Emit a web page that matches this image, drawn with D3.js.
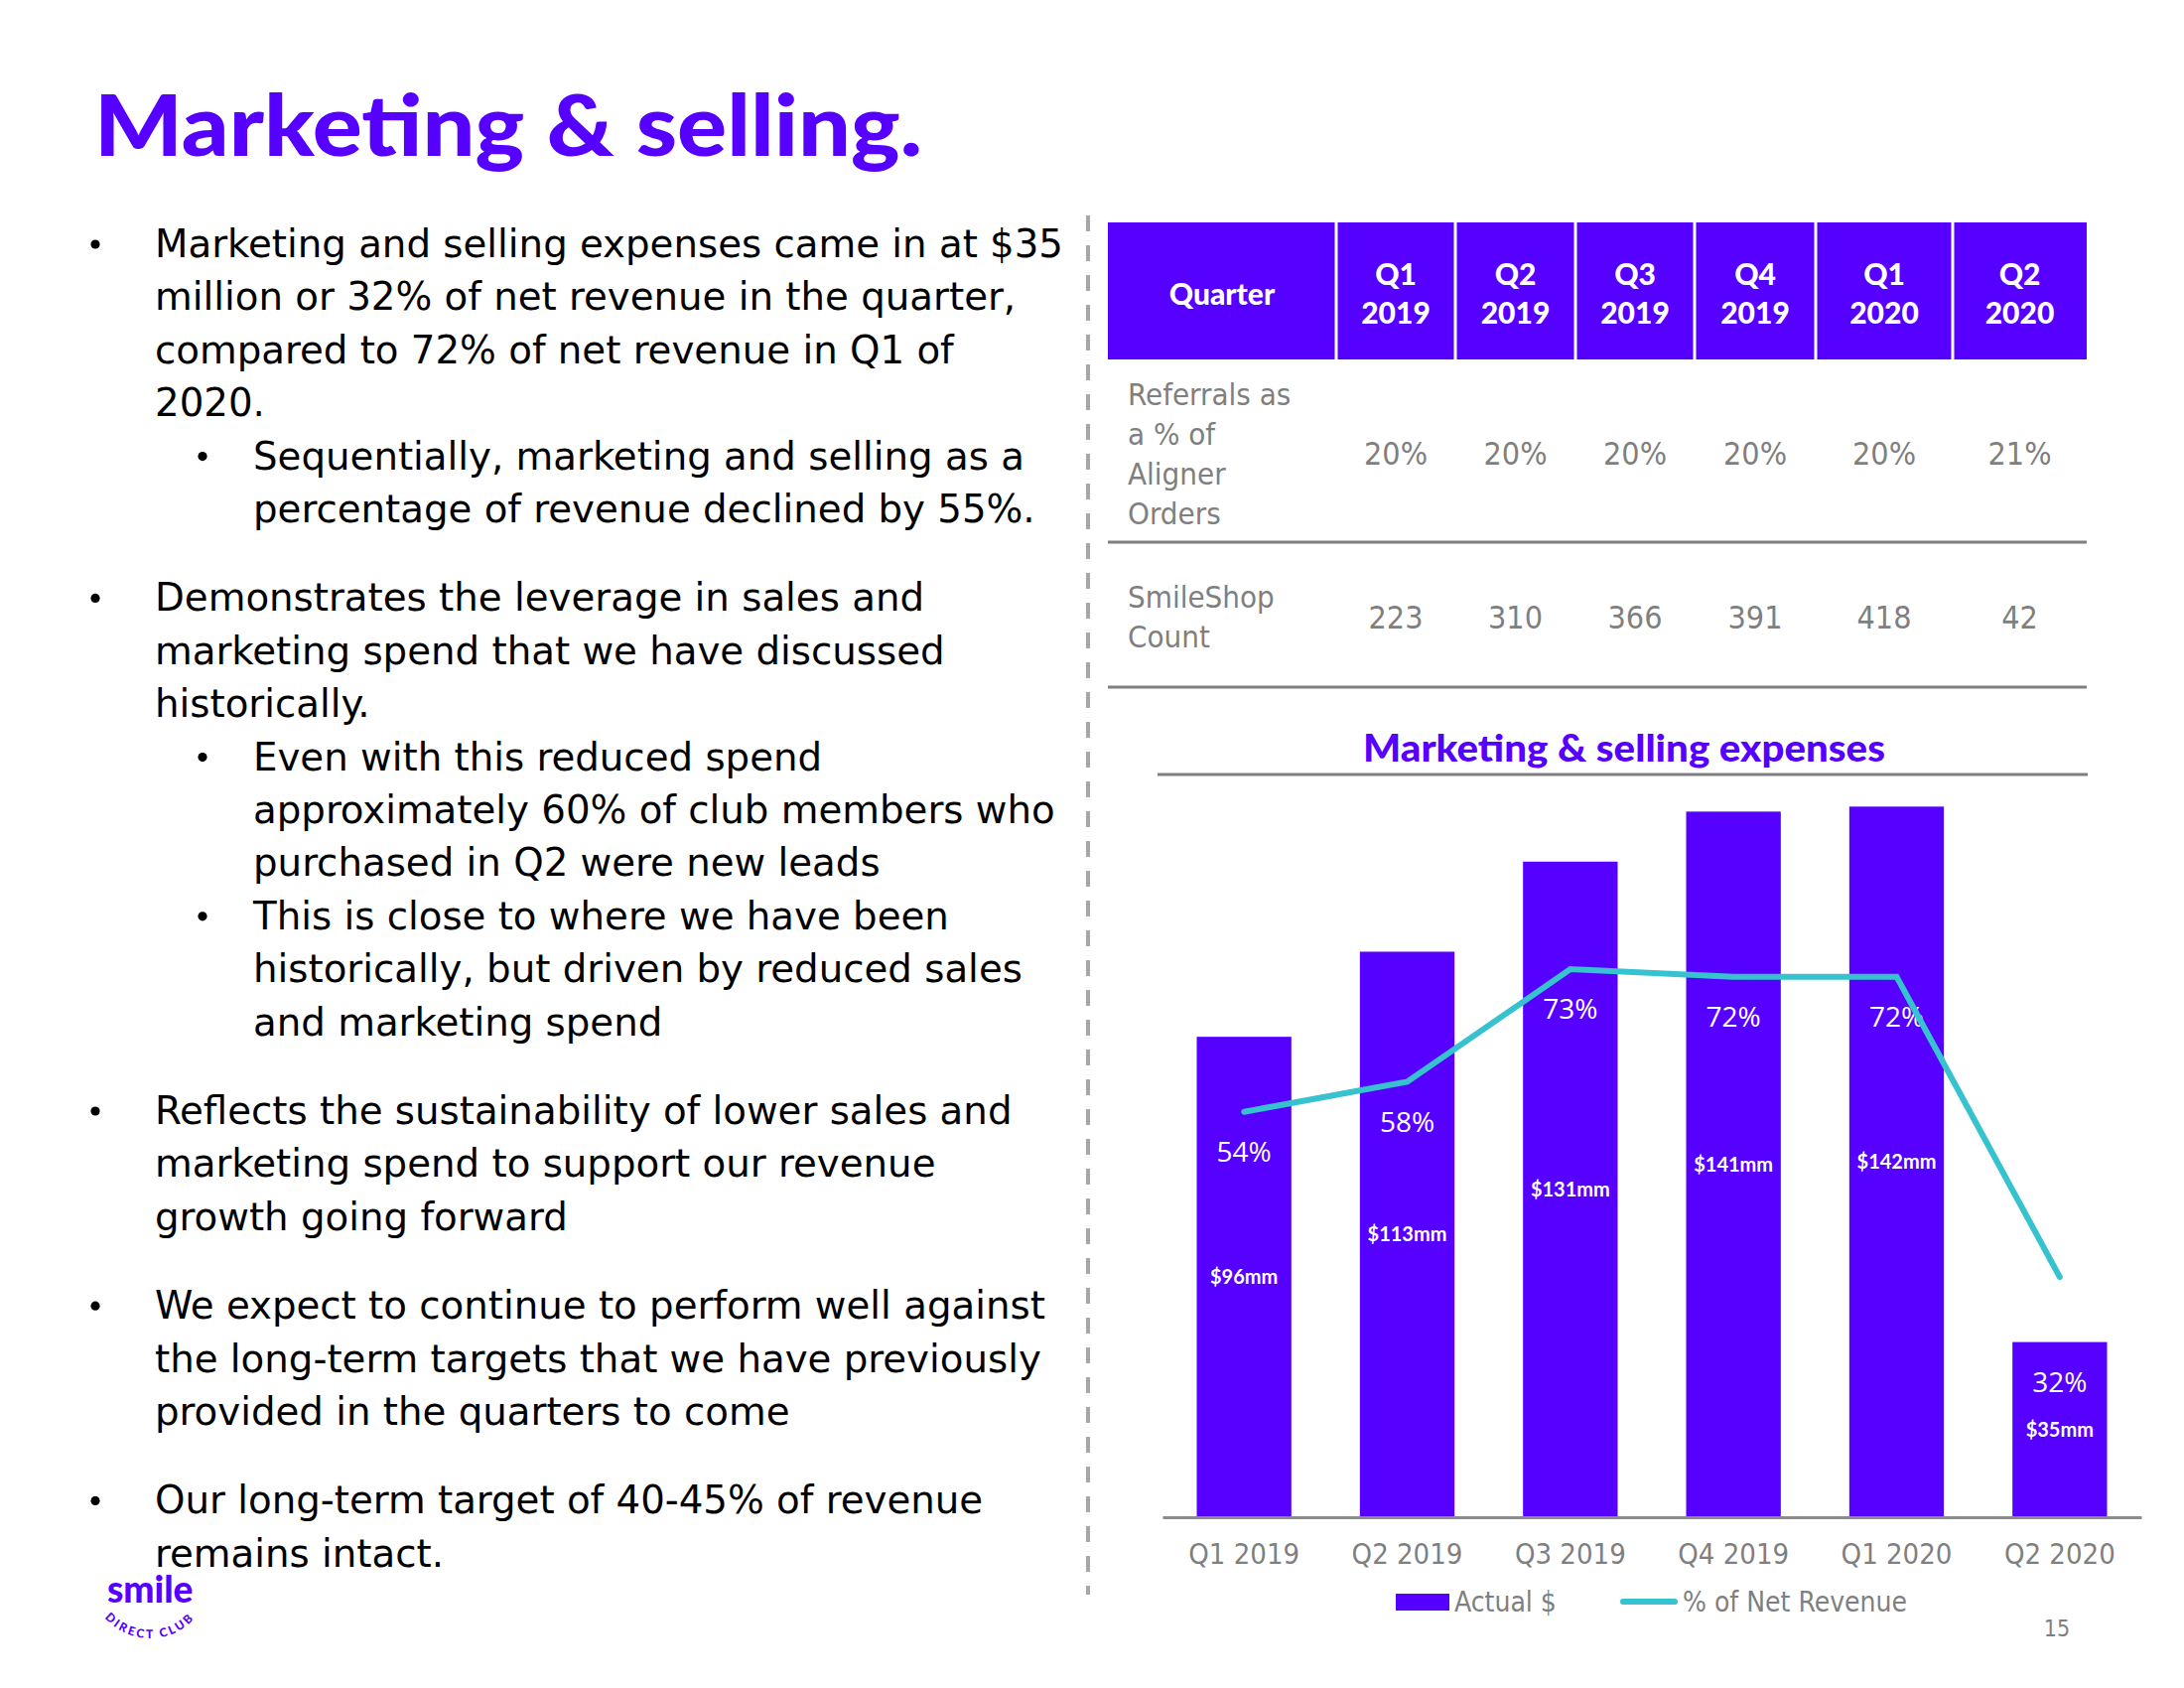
<!DOCTYPE html>
<html>
<head>
<meta charset="utf-8">
<script src="https://cdn.jsdelivr.net/npm/d3@7"></script>
<style>
  html, body { margin: 0; padding: 0; background: #ffffff; }
  svg { display: block; }
</style>
</head>
<body>
<svg id="chart" width="2200" height="1700"></svg>
<script>
// ---------------- DATA ----------------
const quarters = ["Q1 2019", "Q2 2019", "Q3 2019", "Q4 2019", "Q1 2020", "Q2 2020"];
const marketingSpend = [96, 113, 131, 141, 142, 35];          // $mm
const pctNetRevenue = [54, 58, 73, 72, 72, 32];               // %
const referralsPct = [20, 20, 20, 20, 20, 21];                // % of aligner orders
const smileShopCount = [223, 310, 366, 391, 418, 42];
const seriesNames = ["Actual $", "% of Net Revenue"];
const titleText = "Marketing & selling.";
const chartTitle = "Marketing & selling expenses";
const rowLabels = [["Referrals as", "a % of", "Aligner", "Orders"], ["SmileShop", "Count"]];
const bullets = [
  { level: 0, lines: ["Marketing and selling expenses came in at $35", "million or 32% of net revenue in the quarter,", "compared to 72% of net revenue in Q1 of", "2020."] },
  { level: 1, lines: ["Sequentially, marketing and selling as a", "percentage of revenue declined by 55%."] },
  { level: 0, lines: ["Demonstrates the leverage in sales and", "marketing spend that we have discussed", "historically."] },
  { level: 1, lines: ["Even with this reduced spend", "approximately 60% of club members who", "purchased in Q2 were new leads"] },
  { level: 1, lines: ["This is close to where we have been", "historically, but driven by reduced sales", "and marketing spend"] },
  { level: 0, lines: ["Reflects the sustainability of lower sales and", "marketing spend to support our revenue", "growth going forward"] },
  { level: 0, lines: ["We expect to continue to perform well against", "the long-term targets that we have previously", "provided in the quarters to come"] },
  { level: 0, lines: ["Our long-term target of 40-45% of revenue", "remains intact."] }
];

// ---------------- STYLE / LAYOUT ----------------
const PURPLE = "#5600FF";
const TEAL = "#36C2CE";
const GRAY = "#7F7F7F";
const BODY_FONT = "'DejaVu Sans Condensed', 'DejaVu Sans', sans-serif";
const HEAD_FONT = "Lato, 'Open Sans', sans-serif";

const svg = d3.select("#chart");
svg.append("rect").attr("width", 2200).attr("height", 1700).attr("fill", "#fff");

// Title
svg.append("text")
  .attr("x", 95).attr("y", 157)
  .attr("font-family", HEAD_FONT).attr("font-weight", 900)
  .attr("font-size", 86).attr("fill", PURPLE)
  .attr("textLength", 834).attr("lengthAdjust", "spacingAndGlyphs")
  .text(titleText);

// Bullets
const bodyG = svg.append("g");
let yPos = 259;
const lineH = 53.4;
let allLines = [];
bullets.forEach((b, i) => {
  if (i > 0 && b.level === 0) yPos += 36;
  const bx = b.level === 0 ? 96 : 204;
  const tx = b.level === 0 ? 156 : 255;
  bodyG.append("circle").attr("cx", bx).attr("cy", yPos - 13).attr("r", 4.6).attr("fill", "#000");
  b.lines.forEach((ln) => {
    const t = bodyG.append("text").attr("x", tx).attr("y", yPos)
      .attr("font-family", BODY_FONT).attr("font-size", 39).attr("fill", "#000")
      .text(ln);
    allLines.push(t);
    yPos += lineH;
  });
});
// fit narrow Tahoma-like width: first line measured 915px in reference
const natural0 = allLines[0].node().getComputedTextLength();
const kBody = 915 / natural0;
allLines.forEach(t => {
  const w = t.node().getComputedTextLength();
  t.attr("textLength", w * kBody).attr("lengthAdjust", "spacingAndGlyphs");
});

// Dashed separator
svg.append("line").attr("x1", 1096).attr("x2", 1096).attr("y1", 217).attr("y2", 1606)
  .attr("stroke", "#A6A6A6").attr("stroke-width", 4).attr("stroke-dasharray", "16 14");

// ---------------- TABLE ----------------
const colEdges = [1116, 1346, 1466, 1587, 1707, 1829, 1967, 2102];
const colCenter = i => (colEdges[i] + colEdges[i + 1]) / 2;
const tbl = svg.append("g");
tbl.append("rect").attr("x", colEdges[0]).attr("y", 224)
  .attr("width", colEdges[7] - colEdges[0]).attr("height", 138).attr("fill", PURPLE);
colEdges.slice(1, 7).forEach(x => {
  tbl.append("rect").attr("x", x - 1.5).attr("y", 224).attr("width", 3).attr("height", 138).attr("fill", "#fff");
});
tbl.append("text").attr("x", colCenter(0)).attr("y", 307).attr("text-anchor", "middle")
  .attr("font-family", HEAD_FONT).attr("font-weight", 900).attr("font-size", 30).attr("fill", "#fff")
  .text("Quarter");
quarters.forEach((q, i) => {
  const parts = q.split(" ");
  tbl.append("text").attr("x", colCenter(i + 1)).attr("y", 287).attr("text-anchor", "middle")
    .attr("font-family", HEAD_FONT).attr("font-weight", 900).attr("font-size", 30).attr("fill", "#fff")
    .text(parts[0]);
  tbl.append("text").attr("x", colCenter(i + 1)).attr("y", 326).attr("text-anchor", "middle")
    .attr("font-family", HEAD_FONT).attr("font-weight", 900).attr("font-size", 30).attr("fill", "#fff")
    .text(parts[1]);
});
rowLabels[0].forEach((l, j) => {
  tbl.append("text").attr("x", 1136).attr("y", 408 + j * 40)
    .attr("font-family", BODY_FONT).attr("font-size", 31).attr("fill", GRAY).text(l);
});
referralsPct.forEach((v, i) => {
  tbl.append("text").attr("x", colCenter(i + 1)).attr("y", 468).attr("text-anchor", "middle")
    .attr("font-family", BODY_FONT).attr("font-size", 32).attr("fill", GRAY).text(v + "%");
});
tbl.append("line").attr("x1", 1116).attr("x2", 2102).attr("y1", 546).attr("y2", 546)
  .attr("stroke", GRAY).attr("stroke-width", 3);
rowLabels[1].forEach((l, j) => {
  tbl.append("text").attr("x", 1136).attr("y", 612 + j * 40)
    .attr("font-family", BODY_FONT).attr("font-size", 31).attr("fill", GRAY).text(l);
});
smileShopCount.forEach((v, i) => {
  tbl.append("text").attr("x", colCenter(i + 1)).attr("y", 633).attr("text-anchor", "middle")
    .attr("font-family", BODY_FONT).attr("font-size", 32).attr("fill", GRAY).text(v);
});
tbl.append("line").attr("x1", 1116).attr("x2", 2102).attr("y1", 692).attr("y2", 692)
  .attr("stroke", GRAY).attr("stroke-width", 3);

// ---------------- CHART ----------------
svg.append("text").attr("x", 1636).attr("y", 767).attr("text-anchor", "middle")
  .attr("font-family", HEAD_FONT).attr("font-weight", 900).attr("font-size", 37).attr("fill", PURPLE)
  .attr("textLength", 526).attr("lengthAdjust", "spacingAndGlyphs")
  .text(chartTitle);
svg.append("line").attr("x1", 1166).attr("x2", 2103).attr("y1", 780).attr("y2", 780)
  .attr("stroke", GRAY).attr("stroke-width", 3);

const baseY = 1528, topY = 772;
const x = d3.scaleBand().domain(quarters).range([1171, 2157]).paddingInner(0.42).paddingOuter(0.21);
const y = d3.scaleLinear().domain([0, 150]).range([baseY, topY]);
const y2 = d3.scaleLinear().domain([0, 100]).range([baseY, topY]);

const data = quarters.map((q, i) => ({ q, v: marketingSpend[i], p: pctNetRevenue[i] }));
const chart = svg.append("g");

chart.selectAll("rect.bar").data(data).join("rect").attr("class", "bar")
  .attr("x", d => x(d.q)).attr("width", x.bandwidth())
  .attr("y", d => y(d.v)).attr("height", d => y(0) - y(d.v))
  .attr("fill", PURPLE);

// x axis
const axisG = chart.append("g").attr("transform", `translate(0,${baseY})`)
  .call(d3.axisBottom(x).tickSize(0).tickSizeOuter(0));
axisG.select(".domain").attr("stroke", "#8C8C8C").attr("stroke-width", 3);
axisG.selectAll(".tick text")
  .attr("y", 47).attr("dy", 0)
  .attr("font-family", BODY_FONT).attr("font-size", 29).attr("fill", GRAY);

// dollar labels (centre of bar)
chart.selectAll("text.dollar").data(data).join("text").attr("class", "dollar")
  .attr("x", d => x(d.q) + x.bandwidth() / 2)
  .attr("y", d => (y(d.v) + y(0)) / 2 + 7)
  .attr("text-anchor", "middle")
  .attr("font-family", HEAD_FONT).attr("font-weight", 700).attr("font-size", 20).attr("fill", "#fff")
  .text(d => "$" + d.v + "mm");

// percent labels
chart.selectAll("text.pct").data(data).join("text").attr("class", "pct")
  .attr("x", d => x(d.q) + x.bandwidth() / 2)
  .attr("y", d => Math.max(y2(d.p), y(d.v)) + 50)
  .attr("text-anchor", "middle")
  .attr("font-family", "'Open Sans', sans-serif").attr("font-size", 28).attr("fill", "#fff")
  .text(d => d.p + "%");

// line
const line = d3.line().x(d => x(d.q) + x.bandwidth() / 2).y(d => y2(d.p));
chart.append("path").datum(data).attr("d", line)
  .attr("fill", "none").attr("stroke", TEAL).attr("stroke-width", 6)
  .attr("stroke-linejoin", "miter").attr("stroke-linecap", "round");

// legend
const lg = svg.append("g");
lg.append("rect").attr("x", 1406).attr("y", 1605).attr("width", 54).attr("height", 17).attr("fill", PURPLE);
lg.append("text").attr("x", 1465).attr("y", 1623)
  .attr("font-family", BODY_FONT).attr("font-size", 28).attr("fill", GRAY).text(seriesNames[0]);
lg.append("line").attr("x1", 1635).attr("x2", 1687).attr("y1", 1613).attr("y2", 1613)
  .attr("stroke", TEAL).attr("stroke-width", 6).attr("stroke-linecap", "round");
lg.append("text").attr("x", 1695).attr("y", 1623)
  .attr("font-family", BODY_FONT).attr("font-size", 28).attr("fill", GRAY).text(seriesNames[1]);

// page number
svg.append("text").attr("x", 2072).attr("y", 1648).attr("text-anchor", "middle")
  .attr("font-family", BODY_FONT).attr("font-size", 23).attr("fill", GRAY).text("15");

// logo
svg.append("text").attr("x", 108).attr("y", 1614)
  .attr("font-family", HEAD_FONT).attr("font-weight", 900).attr("font-size", 37).attr("fill", PURPLE)
  .text("smile");
const cx = 151, cy = 1590, r = 60;
const defs = svg.append("defs");
defs.append("path").attr("id", "logoArc")
  .attr("d", `M ${cx - r} ${cy} A ${r} ${r} 0 0 0 ${cx + r} ${cy}`);
svg.append("text").attr("font-family", HEAD_FONT).attr("font-weight", 900)
  .attr("font-size", 12).attr("letter-spacing", 2.5).attr("fill", PURPLE)
  .append("textPath").attr("href", "#logoArc").attr("startOffset", "50%").attr("text-anchor", "middle")
  .text("DIRECT CLUB");
</script>
</body>
</html>
